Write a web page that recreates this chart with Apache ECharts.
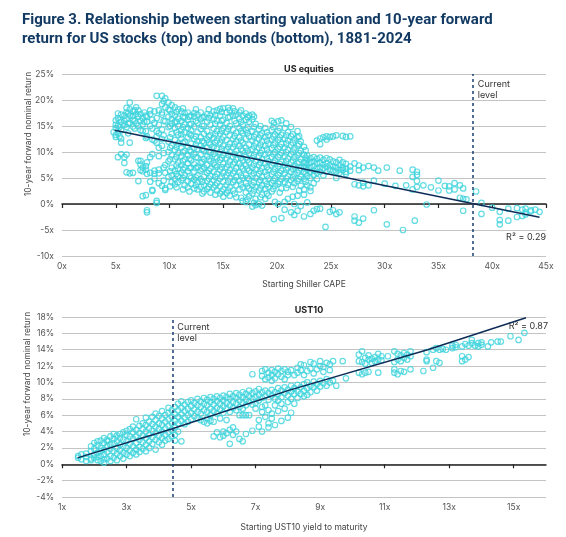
<!DOCTYPE html>
<html>
<head>
<meta charset="utf-8">
<script src="https://cdn.jsdelivr.net/npm/echarts@6/dist/echarts.min.js"></script>
<style>html,body{margin:0;background:#fff}#main{width:566px;height:537px}</style>
</head>
<body>
<div id="main"></div>
<script>
// US equities: starting CAPE -> list of 10-year forward returns (%)
var equityCols = [
  [4.8, [13.8]],
  [5.0, [15.2, 16.1, 13.3, 12.9, 14.6]],
  [5.2, [16.5, 17.4, 13.6, 9.0, 15.0]],
  [5.35, [16.2, 14.8, 13.0]],
  [5.5, [17.2, 14.2, 9.6, 11.8, 15.8, 12.6]],
  [5.8, [16.0, 17.0, 7.9, 15.2, 9.0]],
  [6.0, [18.5, 16.4, 6.1, 14.8, 17.6, 9.5]],
  [6.15, [17.4, 15.4, 13.6]],
  [6.3, [19.5, 17.0, 15.6, 5.9, 11.8, 18.2]],
  [6.6, [17.8, 16.2, 14.9, 16.9, 6.0]],
  [6.75, [18.0, 16.0, 14.5]],
  [6.9, [17.3, 15.5, 18.6]],
  [7.1, [16.8, 18.0, 15.0, 8.3, 4.4]],
  [7.3, [17.3, 16.0, 14.2, 7.6, 6.5, 8.3]],
  [7.5, [16.5, 15.3, 7.0, 6.3, 1.5, 14.0]],
  [7.65, [17.6, 15.8]],
  [7.8, [17.0, 14.0, 12.7, 6.6, 7.3, 1.7]],
  [7.9, [16.8, 15.8, 8.0, 5.8, -1.2, -1.6, 13.0]],
  [8.2, [17.3, 18.0, 15.0, 6.0, 9.0, 4.3]],
  [8.4, [16.2, 9.6, 14.5, 12.4, 2.5, 2.7]],
  [8.6, [17.8, 12.2, 6.4, 5.8, 4.9, 15.6]],
  [8.8, [20.8, 16.5, 14.0, 13.0, 0.6, 0.2, 11.8]],
  [9.0, [18.0, 15.2, 10.8, 6.6, 5.9, 4.0, 9.2, 13.6]],
  [9.3, [20.8, 17.2, 19.2, 17.6, 12.5, 11.2, 3.5, 14.3]],
  [9.45, [19.8, 16.0, 13.2, 9.8, 7.0, 4.5]],
  [9.6, [20.3, 15.9, 7.5, 3.0, 2.7, 6.0, 18.6]],
  [9.9, [19.5, 18.2, 16.8, 14.8, 12.0, 10.0, 8.2, 5.2]],
  [10.05, [18.0, 15.0, 12.8, 10.8, 8.6, 6.3, 3.4]],
  [10.2, [19.0, 17.3, 15.5, 13.5, 11.2, 9.4, 7.0, 5.5, 4.2, 16.3]],
  [10.5, [18.6, 17.0, 14.6, 12.3, 10.4, 8.6, 6.4, 4.8, 3.8, 15.8]],
  [10.65, [17.7, 15.8, 13.8, 11.0, 9.1, 7.4, 5.8, 3.2]],
  [10.8, [18.2, 16.4, 15.0, 13.3, 11.6, 9.8, 8.0, 6.8, 5.3, 4.2]],
  [11.1, [17.8, 16.0, 14.2, 12.6, 10.9, 9.2, 7.5, 6.0, 4.6, 13.4]],
  [11.25, [18.4, 16.7, 14.8, 11.7, 9.9, 8.2, 6.6, 5.0, 2.8]],
  [11.4, [17.5, 15.3, 13.8, 12.0, 10.2, 8.6, 7.0, 5.6, 3.6, 16.6]],
  [11.7, [17.6, 16.2, 14.6, 12.8, 11.0, 9.4, 7.8, 6.3, 4.4, 3.2]],
  [11.85, [16.8, 15.3, 13.5, 10.3, 8.7, 6.9, 5.3, 2.4]],
  [12.0, [17.0, 15.4, 13.2, 11.6, 10.0, 8.4, 7.0, 5.0, 3.9, 14.2]],
  [12.3, [16.8, 14.9, 12.5, 10.8, 9.6, 7.6, 6.2, 4.7, 3.0, 17.5]],
  [12.45, [18.2, 16.0, 13.0, 11.4, 9.0, 6.9, 5.1, 3.6]],
  [12.6, [17.2, 15.6, 13.8, 12.1, 10.6, 8.9, 7.2, 5.5, 4.2, 2.8]],
  [12.9, [17.6, 16.3, 14.4, 12.8, 11.2, 9.5, 7.9, 6.4, 4.8, 3.3]],
  [13.05, [16.6, 15.0, 12.1, 10.6, 8.1, 6.7, 4.3, 2.0]],
  [13.2, [16.8, 15.0, 13.5, 11.8, 10.2, 8.6, 7.0, 5.2, 3.6, 2.4]],
  [13.5, [17.3, 15.8, 14.0, 12.4, 10.8, 9.2, 7.5, 6.0, 4.4, 2.9]],
  [13.65, [18.2, 16.5, 13.0, 11.8, 10.0, 8.6, 6.4, 4.9, 3.3]],
  [13.8, [17.0, 15.2, 13.2, 11.4, 9.9, 8.2, 6.8, 5.4, 3.8, 2.2]],
  [14.1, [17.8, 16.4, 14.5, 12.7, 11.0, 9.6, 7.8, 6.2, 4.6, 3.2]],
  [14.25, [17.1, 15.4, 13.4, 11.8, 9.1, 7.5, 5.2, 3.6, 1.8]],
  [14.4, [18.0, 16.0, 14.0, 12.2, 10.6, 8.8, 7.2, 5.8, 4.0, 2.6]],
  [14.7, [18.3, 17.0, 15.2, 13.5, 11.8, 10.0, 8.5, 6.6, 4.9, 3.4, 2.0]],
  [14.85, [17.7, 16.0, 14.1, 12.4, 10.6, 8.9, 7.1, 5.3, 2.4]],
  [15.0, [18.4, 16.2, 14.6, 12.9, 11.2, 9.4, 7.7, 6.0, 4.3, 1.4, 2.8]],
  [15.3, [17.6, 15.6, 13.9, 12.3, 10.5, 8.8, 7.1, 5.5, 3.7, 2.1]],
  [15.45, [18.5, 16.6, 14.4, 11.0, 9.4, 7.6, 6.0, 4.3, 2.6]],
  [15.6, [18.0, 16.8, 15.0, 13.2, 11.6, 10.0, 8.2, 6.5, 4.9, 3.2, 1.6]],
  [15.9, [18.4, 17.0, 14.3, 12.6, 10.9, 9.1, 7.6, 5.9, 4.2, 2.6]],
  [16.05, [17.8, 16.0, 13.1, 11.5, 9.6, 8.0, 6.3, 4.6, 2.0]],
  [16.2, [17.2, 15.5, 13.7, 12.0, 10.2, 8.6, 6.9, 5.2, 3.6, 1.3]],
  [16.5, [17.6, 16.4, 14.6, 12.8, 11.2, 9.5, 7.8, 6.1, 4.5, 2.8]],
  [16.65, [18.0, 15.8, 14.0, 12.2, 10.6, 8.9, 7.2, 5.5, 3.8, 1.2]],
  [16.8, [17.0, 15.2, 13.6, 11.8, 10.2, 8.4, 6.8, 5.0, 3.2, 0.6]],
  [17.1, [17.4, 16.2, 14.2, 12.5, 10.8, 9.0, 7.4, 5.6, 4.0, 2.2, 0.4]],
  [17.25, [16.7, 14.7, 13.6, 10.2, 8.5, 6.8, 5.0, 3.4, 0.9]],
  [17.4, [17.0, 15.8, 13.0, 11.4, 9.7, 8.0, 6.4, 4.8, 3.0, 1.5]],
  [17.7, [17.2, 16.3, 14.0, 12.2, 10.5, 8.8, 7.0, 5.4, 3.6, 2.0, -0.5]],
  [17.85, [16.8, 14.8, 12.9, 11.1, 9.4, 7.6, 5.9, 4.2, 2.6, 0.2]],
  [18.0, [15.4, 13.4, 11.7, 10.0, 8.2, 6.6, 5.0, 3.2, 1.0, -0.2]],
  [18.3, [14.4, 12.6, 10.8, 9.2, 7.5, 5.8, 4.2, 2.6, 0.0]],
  [18.45, [15.0, 13.2, 11.4, 9.8, 8.0, 6.3, 4.6, 3.0, 1.3]],
  [18.6, [13.6, 12.0, 10.3, 8.6, 6.9, 5.2, 3.6, 1.8, -0.3]],
  [18.9, [14.6, 12.9, 11.2, 9.5, 7.8, 6.2, 4.4, 2.9, 1.0]],
  [19.05, [13.8, 12.2, 10.5, 8.8, 7.1, 5.5, 3.8, 2.0]],
  [19.2, [13.2, 11.6, 9.9, 8.2, 6.6, 4.9, 3.3, 1.6]],
  [19.5, [16.0, 14.2, 12.4, 10.7, 9.0, 7.4, 5.7, 4.0, 2.4]],
  [19.65, [14.8, 13.0, 11.3, 9.6, 7.9, 6.2, 4.5, 2.9]],
  [19.7, [-2.9, 15.6]],
  [19.8, [13.4, 11.8, 10.0, 8.4, 6.8, 5.0, 3.5, 0.4]],
  [20.1, [15.9, 14.0, 12.3, 10.6, 9.0, 7.2, 5.6, 3.9, 0.0]],
  [20.25, [14.6, 12.8, 11.0, 9.4, 7.7, 6.0, 4.3, 2.2]],
  [20.4, [16.1, 13.3, 11.5, 9.8, 8.1, 6.4, 4.8, 3.0, -2.7]],
  [20.7, [14.6, 12.6, 10.9, 9.2, 7.5, 5.9, 4.2, 0.4, -1.1]],
  [20.85, [15.5, 13.2, 11.6, 9.9, 8.2, 6.6, 4.9, 3.1]],
  [21.0, [13.8, 12.2, 10.4, 8.7, 7.0, 5.3, 3.7, 1.0]],
  [21.3, [14.8, 13.0, 11.3, 9.6, 8.0, 6.2, 4.6, -1.6]],
  [21.45, [13.4, 11.8, 10.1, 8.4, 6.8, 5.1, 3.3, 1.4]],
  [21.6, [12.4, 10.7, 9.0, 7.3, 5.7, 4.0, 0.0, -2.1]],
  [21.9, [14.0, 12.8, 11.2, 9.4, 7.8, 6.0, 4.4, 1.6, -1.3]],
  [22.05, [13.0, 11.5, 9.8, 8.1, 6.5, 4.8, 2.6]],
  [22.2, [12.0, 10.2, 8.6, 6.9, 5.2, 3.5, -0.4]],
  [22.5, [11.0, 9.5, 8.0, 7.2, 6.2, 4.8, 2.8, 1.8, -2.4]],
  [22.65, [10.3, 8.9, 7.9, 7.0, 5.9, 4.3]],
  [22.8, [9.3, 8.5, 7.6, 6.6, 5.4, 3.6, 0.3]],
  [23.1, [8.8, 8.0, 7.0, 6.2, 5.0, 2.5, 3.2, -1.9]],
  [23.4, [9.0, 8.2, 7.3, 6.4, 5.6, 4.0, -1.3]],
  [23.7, [12.2, 8.7, 7.8, 6.8, 6.0, 4.8, -1.0]],
  [24.0, [12.6, 11.5, 8.9, 7.9, 7.0, 6.2, -0.9]],
  [24.3, [12.8, 8.5, 7.6, 6.8, 5.5]],
  [24.5, [-4.4]],
  [24.6, [13.0, 12.4, 8.8, 7.8, 7.2, 6.2]],
  [24.9, [12.9, 8.6, 7.4, 6.6, -1.5]],
  [25.2, [13.0, 8.2, 7.2, 6.4, -1.2]],
  [25.5, [13.2, 8.0, 7.0, 6.2, 5.0, -1.9]],
  [25.8, [8.5, 7.5, 6.6, 6.0, -1.6]],
  [26.1, [13.1, 8.0, 7.0, 6.5]],
  [26.4, [12.9, 7.7, 6.8, 6.2, 5.8]],
  [26.8, [13.0, 7.2, 6.4]],
  [27.2, [7.8, 3.8, -2.4, -3.2]],
  [27.6, [7.4, 6.5, 3.6, -3.6]],
  [28.0, [7.0, 3.4, 4.1, -2.8]],
  [28.5, [7.3, 3.6]],
  [29.0, [7.0, 4.5, -1.2]],
  [29.4, [6.4]],
  [30.0, [3.9]],
  [30.2, [7.0, -3.9]],
  [31.0, [3.5]],
  [31.4, [6.4]],
  [31.7, [-5.0]],
  [32.0, [3.6]],
  [32.6, [5.2, 6.6, 2.8]],
  [32.8, [-3.2]],
  [33.0, [6.2, 5.6, 4.4, 3.3]],
  [33.6, [3.6]],
  [33.9, [-0.1]],
  [34.3, [3.2]],
  [35.0, [4.5, 2.6]],
  [35.6, [3.5]],
  [36.0, [2.6, 3.4]],
  [36.5, [2.8, 4.0]],
  [37.0, [1.2, 3.6]],
  [37.3, [1.0, -1.3, 3.0]],
  [37.6, [0.9]],
  [38.5, [2.4]],
  [39.0, [0.2, -1.9]],
  [40.0, [-0.7]],
  [40.7, [-1.5, -3.1, -3.9]],
  [41.5, [-0.9, -3.2]],
  [42.3, [-0.8, -2.5]],
  [42.8, [-1.1, -2.3]],
  [43.1, [-0.9, -1.6, -2.0]],
  [43.6, [-1.4, -1.2]],
  [44.0, [-1.1]],
  [44.4, [-1.5]]
];

// UST10: starting yield -> list of 10-year forward returns (%)
var bondCols = [
  [1.5, [1.0, 0.8]],
  [1.6, [1.2, 0.6]],
  [1.75, [0.9, 0.4, 1.3]],
  [1.9, [0.7, 1.6, 2.2, 0.5]],
  [2.0, [2.6, 1.9, 1.2, 0.8]],
  [2.1, [2.3, 2.8, 1.4, 0.9, 0.5]],
  [2.2, [2.0, 2.9, 1.6, 1.0, 0.4]],
  [2.3, [2.6, 3.2, 1.8, 1.2, 0.2, 0.6]],
  [2.4, [3.0, 2.2, 1.5, 0.7, 2.8]],
  [2.5, [2.4, 3.4, 1.9, 1.0, 0.4]],
  [2.6, [3.1, 3.7, 2.6, 1.6, 0.8]],
  [2.7, [2.8, 3.5, 2.0, 1.3, 0.5]],
  [2.8, [3.7, 3.2, 2.4, 1.7, 1.0]],
  [2.9, [3.9, 3.0, 2.2, 1.4, 0.7]],
  [3.0, [3.6, 4.1, 2.8, 2.0, 1.2]],
  [3.1, [3.4, 4.3, 2.5, 1.7, 1.0]],
  [3.2, [3.9, 4.6, 3.1, 2.2, 1.4]],
  [3.3, [5.5, 4.2, 3.4, 2.6, 1.8, 1.2]],
  [3.4, [4.7, 3.8, 3.0, 2.1, 1.5]],
  [3.5, [5.0, 4.3, 3.5, 2.7, 1.9]],
  [3.6, [5.7, 4.8, 4.0, 3.2, 2.4, 1.6]],
  [3.7, [5.2, 4.4, 3.6, 2.8, 2.0]],
  [3.8, [5.8, 4.9, 4.1, 3.3, 2.5]],
  [3.9, [6.2, 5.4, 4.6, 3.8, 3.0, 1.8]],
  [4.0, [5.9, 5.0, 4.3, 3.5, 2.7]],
  [4.1, [6.5, 5.6, 4.8, 4.0, 3.2, 2.4]],
  [4.2, [6.0, 5.2, 4.4, 3.6, 2.9]],
  [4.3, [6.9, 6.3, 5.5, 4.7, 3.9, 3.1]],
  [4.4, [6.6, 5.8, 5.0, 4.2, 3.4]],
  [4.5, [7.0, 6.1, 5.3, 4.5, 3.6, 2.9]],
  [4.6, [7.4, 6.6, 5.8, 5.0, 4.0]],
  [4.7, [7.7, 6.9, 6.1, 5.3, 2.8]],
  [4.8, [7.3, 6.5, 5.7, 4.9]],
  [4.9, [7.6, 6.8, 6.0, 5.2]],
  [5.0, [7.8, 7.1, 6.3, 5.5]],
  [5.1, [7.5, 6.7, 5.9]],
  [5.2, [8.0, 7.2, 6.4, 5.6]],
  [5.3, [7.7, 7.0, 6.2, 5.4]],
  [5.4, [8.1, 7.4, 6.6, 5.2]],
  [5.5, [7.9, 7.2, 6.4, 5.6, 5.0]],
  [5.6, [8.2, 7.6, 6.8, 6.0, 5.3]],
  [5.7, [8.0, 7.3, 6.5, 5.2, 3.4]],
  [5.8, [8.3, 7.7, 6.9, 6.2, 3.9]],
  [5.9, [8.1, 7.4, 6.7, 5.6, 3.3]],
  [6.0, [8.4, 7.8, 7.1, 6.3, 4.0, 3.5]],
  [6.1, [8.2, 7.5, 6.8, 5.4, 3.8]],
  [6.2, [8.6, 8.0, 7.2, 6.4, 4.2, 2.5]],
  [6.3, [8.3, 7.6, 6.9, 4.5, 3.6]],
  [6.4, [8.7, 8.1, 7.4, 6.6, 4.0]],
  [6.5, [8.5, 7.8, 7.0, 6.0, 3.1]],
  [6.6, [8.8, 8.2, 7.5, 6.8, 6.0, 2.8]],
  [6.7, [8.6, 7.9, 7.2, 6.0, 3.7]],
  [6.8, [9.0, 8.3, 7.6, 6.0]],
  [6.9, [11.0, 8.7, 8.0, 7.3, 4.1]],
  [7.0, [8.9, 8.2, 7.5, 6.8]],
  [7.1, [9.2, 8.5, 7.8, 5.4, 4.6]],
  [7.2, [11.4, 10.8, 8.8, 8.1, 7.0, 6.4, 4.0]],
  [7.3, [11.6, 10.4, 9.0, 8.3, 7.2, 5.8]],
  [7.4, [11.2, 10.6, 8.7, 7.9, 6.6, 5.0, 4.5]],
  [7.5, [11.5, 10.9, 10.2, 9.1, 8.4, 6.2, 5.6]],
  [7.6, [11.3, 10.5, 8.8, 8.0, 7.2, 4.8]],
  [7.7, [11.7, 11.0, 9.3, 8.6, 7.8, 6.5]],
  [7.8, [11.4, 10.7, 9.0, 8.2, 7.4, 5.3]],
  [7.9, [11.6, 10.4, 9.4, 8.7, 6.8]],
  [8.0, [11.3, 10.9, 9.1, 8.4, 7.6, 5.7]],
  [8.1, [11.5, 9.6, 8.9, 8.0, 6.3]],
  [8.2, [10.9, 9.3, 8.6, 7.4]],
  [8.3, [11.8, 11.2, 9.7, 8.9, 8.1]],
  [8.4, [12.2, 11.5, 9.4, 8.6]],
  [8.5, [12.1, 10.9, 9.8, 9.0, 8.3]],
  [8.6, [11.4, 10.0, 9.3, 8.5]],
  [8.7, [12.5, 11.7, 9.6, 8.8]],
  [8.8, [12.3, 11.1, 10.1, 9.4]],
  [8.9, [11.6, 9.8, 9.0]],
  [9.0, [12.6, 12.0, 10.2, 9.5]],
  [9.1, [11.9, 11.3, 9.9]],
  [9.2, [12.4, 10.4, 9.6]],
  [9.3, [12.2, 11.5, 10.0]],
  [9.4, [12.6, 10.2]],
  [9.5, [9.6]],
  [9.7, [12.6]],
  [9.8, [10.5]],
  [10.2, [12.6, 13.4, 11.2]],
  [10.3, [13.8, 12.5, 11.0]],
  [10.4, [13.0, 12.3, 11.2]],
  [10.5, [13.3, 12.8, 11.3]],
  [10.6, [12.9, 12.4]],
  [10.7, [13.1, 12.6]],
  [10.8, [13.5, 12.8, 11.2]],
  [10.9, [13.2, 12.7]],
  [11.1, [13.2]],
  [11.3, [13.8, 12.5, 11.2, 11.6]],
  [11.4, [13.5, 12.8, 11.0]],
  [11.5, [13.3, 12.6, 11.4]],
  [11.6, [13.6, 13.0, 11.3]],
  [11.7, [13.4, 12.8]],
  [11.8, [13.8, 13.2, 11.6]],
  [12.2, [11.4]],
  [12.3, [13.7, 12.8, 12.6]],
  [12.5, [14.0, 11.8]],
  [12.6, [14.2, 12.6]],
  [12.7, [14.0, 12.4]],
  [12.8, [14.1]],
  [12.9, [14.0]],
  [13.1, [14.2, 14.5]],
  [13.2, [14.6, 14.3]],
  [13.4, [14.4, 12.6, 13.2]],
  [13.5, [14.7, 12.8]],
  [13.6, [14.5, 13.1]],
  [13.7, [15.2, 14.8]],
  [13.8, [14.5]],
  [13.9, [14.8, 14.4]],
  [14.0, [14.9, 14.6]],
  [14.2, [14.4]],
  [14.3, [14.9]],
  [14.5, [15.0]],
  [14.6, [15.0]],
  [14.9, [15.65]],
  [15.15, [15.2]],
  [15.33, [16.06]]
];

// fitted lines
var equityFit = [[4.9, 14.2], [44.4, -2.55]];
var bondFit = [[1.48, 0.78], [4.42, 4.35], [8.0, 9.0], [12.33, 14.0], [15.38, 17.9]];

var currentCape = 38.2;
var currentYield = 4.42;
var equityR2 = 'R² = 0.29';
var bondR2 = 'R² = 0.87';
var bondTicks = [1, 3, 5, 7, 9, 11, 13, 15];
var yName = '10-year forward nominal return';

function expand(cols) {
  var out = [];
  cols.forEach(function (c) {
    c[1].forEach(function (y) { out.push([c[0], y]); });
  });
  return out;
}

var cyan = '#3dd3dc';
var navy = '#0e2c57';
var labelStyle = { color: '#555', fontSize: 8.5, fontFamily: 'Inter' };
var nameStyle = { color: '#444', fontSize: 8.5, fontFamily: 'Inter' };
var gridLine = { lineStyle: { color: '#c4c4c4', width: 1 } };

function scatter(x, y, data) {
  return {
    type: 'scatter', xAxisIndex: x, yAxisIndex: y, data: data,
    symbol: 'circle', symbolSize: 5.5, z: 2, silent: true,
    itemStyle: { color: 'rgba(255,255,255,0)', borderColor: cyan, borderWidth: 1.2 }
  };
}

function fitLine(x, y, data, cur, top) {
  return {
    type: 'line', xAxisIndex: x, yAxisIndex: y, data: data,
    symbol: 'none', z: 4, silent: true,
    lineStyle: { color: navy, width: 1.5 },
    markLine: {
      symbol: 'none', silent: true, label: { show: false },
      lineStyle: { color: '#1b3f73', type: [3, 3], width: 1.5 },
      data: [{ xAxis: cur }]
    },
    markPoint: {
      symbol: 'circle', symbolSize: 0, silent: true,
      label: {
        show: true, position: 'insideTopLeft', distance: 5,
        formatter: 'Current\nlevel', color: '#333', fontSize: 9, lineHeight: 11, fontFamily: 'Inter'
      },
      data: [{ coord: [cur, top] }]
    }
  };
}

function sideName(cx, cy) {
  return {
    type: 'text', x: cx, y: cy, rotation: Math.PI / 2,
    style: { text: yName, fill: '#444', fontSize: 8.5, fontFamily: 'Inter', align: 'center', verticalAlign: 'middle' }
  };
}

var myChart = echarts.init(document.getElementById('main'));
var option = {
  backgroundColor: '#fff',
  animation: false,
  title: [
    {
      text: 'Figure 3. Relationship between starting valuation and 10-year forward\nreturn for US stocks (top) and bonds (bottom), 1881-2024',
      left: 17, top: 6,
      textStyle: { color: '#123a63', fontSize: 15, fontWeight: 'bold', lineHeight: 19, fontFamily: 'Roboto' }
    },
    {
      text: 'US equities', left: 304, top: 60, textAlign: 'center',
      textStyle: { color: '#222', fontSize: 9, fontWeight: 'bold', fontFamily: 'Inter' }
    },
    {
      text: 'UST10', left: 304, top: 301, textAlign: 'center',
      textStyle: { color: '#222', fontSize: 9, fontWeight: 'bold', fontFamily: 'Inter' }
    }
  ],
  graphic: [
    { type: 'text', right: 20, top: 233, style: { text: equityR2, fill: '#333', fontSize: 9, fontFamily: 'Inter' } },
    { type: 'text', right: 18, top: 322, style: { text: bondR2, fill: '#333', fontSize: 9, fontFamily: 'Inter' } },
    sideName(28, 134),
    sideName(27, 374)
  ],
  grid: [
    { left: 62, right: 20, top: 74, height: 182 },
    { left: 62, right: 20, top: 317, height: 180 }
  ],
  xAxis: [
    {
      gridIndex: 0, type: 'value', min: 0, max: 45, interval: 5, position: 'bottom',
      name: 'Starting Shiller CAPE', nameLocation: 'middle', nameGap: 24, nameTextStyle: nameStyle,
      axisLine: { show: false, onZero: false }, axisTick: { show: false }, splitLine: { show: false },
      axisLabel: { formatter: '{value}x', margin: 6, textStyle: labelStyle }
    },
    {
      gridIndex: 0, type: 'value', min: 0, max: 45, interval: 5, position: 'bottom',
      axisLine: { show: true, onZero: true, lineStyle: { color: '#222', width: 1.5 } },
      axisTick: { show: true, length: 4, lineStyle: { color: '#222', width: 1.2 } },
      axisLabel: { show: false }, splitLine: { show: false }
    },
    {
      gridIndex: 1, type: 'value', min: 1, max: 16, position: 'bottom',
      name: 'Starting UST10 yield to maturity', nameLocation: 'middle', nameGap: 26, nameTextStyle: nameStyle,
      axisLine: { show: false, onZero: false }, axisTick: { show: false }, splitLine: { show: false },
      axisLabel: { customValues: bondTicks, formatter: '{value}x', margin: 6, textStyle: labelStyle }
    },
    {
      gridIndex: 1, type: 'value', min: 1, max: 16, position: 'bottom',
      axisLine: { show: true, onZero: true, lineStyle: { color: '#222', width: 1.5 } },
      axisTick: { show: true, customValues: bondTicks, length: 4, lineStyle: { color: '#222', width: 1.2 } },
      axisLabel: { show: false }, splitLine: { show: false }
    }
  ],
  yAxis: [
    {
      gridIndex: 0, type: 'value', min: -10, max: 25, interval: 5,
      axisLine: { show: false }, axisTick: { show: false }, splitLine: gridLine,
      axisLabel: {
        margin: 8, textStyle: labelStyle,
        formatter: function (v) { return v < 0 ? v + 'x' : v + '%'; }
      }
    },
    {
      gridIndex: 1, type: 'value', min: -4, max: 18, interval: 2,
      axisLine: { show: false }, axisTick: { show: false }, splitLine: gridLine,
      axisLabel: { margin: 8, textStyle: labelStyle, formatter: '{value}%' }
    }
  ],
  series: [
    scatter(0, 0, expand(equityCols)),
    fitLine(0, 0, equityFit, currentCape, 25),
    scatter(2, 1, expand(bondCols)),
    fitLine(2, 1, bondFit, currentYield, 18)
  ]
};
myChart.setOption(option);
</script>
</body>
</html>
